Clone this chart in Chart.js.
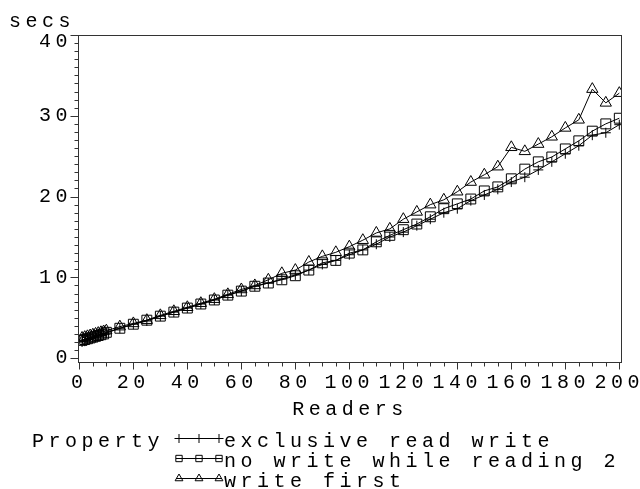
<!DOCTYPE html>
<html>
<head>
<meta charset="utf-8">
<script src="https://cdn.jsdelivr.net/npm/chart.js@4/dist/chart.umd.min.js"></script>
<style>
  html, body { margin: 0; padding: 0; background: #fff; }
  #wrap { width: 640px; height: 489px; }
</style>
</head>
<body>
<div id="wrap"><canvas id="myChart" width="640" height="489"></canvas></div>
<script>
// readers on the x axis
const readers = [1, 2, 3, 4, 5, 6, 7, 8, 9, 10,
    15, 20, 25, 30, 35, 40, 45, 50, 55, 60, 65, 70, 75, 80, 85, 90, 95, 100,
    105, 110, 115, 120, 125, 130, 135, 140, 145, 150, 155, 160, 165, 170, 175,
    180, 185, 190, 195, 200];

// seconds per property
const exclusiveReadWrite = [2.0, 2.1, 2.3, 2.4, 2.5, 2.6, 2.8, 2.9, 3.0, 3.1,
    3.7, 4.2, 4.6, 5.2, 5.7, 6.2, 6.7, 7.2, 7.8, 8.3, 8.9, 9.3, 9.8, 10.3, 10.9, 11.6, 12.1, 12.8,
    13.4, 14.1, 15.0, 15.6, 16.4, 17.2, 18.0, 18.5, 19.5, 20.2, 20.9, 21.8, 22.4, 23.3, 24.3,
    25.3, 26.3, 27.6, 27.9, 28.9];
const noWriteWhileReading2 = [2.2, 2.3, 2.4, 2.5, 2.6, 2.7, 2.8, 2.9, 3.0, 3.2,
    3.7, 4.2, 4.7, 5.2, 5.7, 6.2, 6.7, 7.2, 7.8, 8.3, 8.9, 9.3, 9.7, 10.2, 10.9, 11.8, 12.1, 13.0,
    13.4, 14.4, 15.2, 15.9, 16.6, 17.5, 18.5, 19.1, 19.7, 20.7, 21.2, 22.2, 23.4, 24.3, 24.9,
    25.9, 26.9, 28.1, 29.0, 29.7];
const writeFirst = [2.5, 2.6, 2.7, 2.8, 2.9, 3.0, 3.1, 3.2, 3.3, 3.4,
    3.9, 4.3, 4.7, 5.3, 5.8, 6.3, 6.8, 7.3, 7.9, 8.5, 9.0, 9.7, 10.5, 10.9, 11.9, 12.6, 13.1, 13.8,
    14.6, 15.5, 16.0, 17.2, 18.1, 19.0, 19.6, 20.6, 21.8, 22.7, 23.7, 26.1, 25.6, 26.5, 27.4,
    28.5, 29.5, 33.3, 31.6, 32.8];

const seriesNames = ['exclusive read write', 'no write while reading 2', 'write first'];
const xTickValues = [0, 20, 40, 60, 80, 100, 120, 140, 160, 180, 200];
const yTickValues = [0, 10, 20, 30, 40];

const FONT_FAMILY = '"Liberation Mono", "DejaVu Sans Mono", monospace';
const FONT_SIZE = 20;
const SPACING = '4.5px';

function toPoints(values) {
    return readers.map((r, i) => ({ x: r, y: values[i] }));
}

// wide letter spacing like the original output
const spacingPlugin = {
    id: 'spacing',
    beforeLayout(chart) { chart.ctx.letterSpacing = SPACING; },
    beforeDraw(chart) { chart.ctx.letterSpacing = SPACING; }
};

// frame, tick marks, "secs" label and the legend block
const decorPlugin = {
    id: 'decor',
    afterDraw(chart) {
        const ctx = chart.ctx;
        const a = chart.chartArea;
        const xs = chart.scales.x, ys = chart.scales.y;
        const L = Math.round(a.left) + 0.5, R = Math.round(a.right) - 0.5;
        const T = Math.round(a.top) + 0.5, B = Math.round(a.bottom) - 0.5;
        ctx.save();
        ctx.strokeStyle = '#333';
        ctx.lineWidth = 1;
        ctx.strokeRect(L, T, R - L, B - T);

        ctx.beginPath();
        for (let v = 0; v <= 200; v += 5) {
            const px = Math.round(xs.getPixelForValue(v)) + 0.5;
            const len = v % 20 === 0 ? 7 : 4;
            ctx.moveTo(px, B);
            ctx.lineTo(px, B + len);
        }
        for (let v = 0; v <= 40; v += 1) {
            const py = Math.round(ys.getPixelForValue(v)) + 0.5;
            const len = v % 10 === 0 ? 8 : 4;
            ctx.moveTo(L, py);
            ctx.lineTo(L - len, py);
        }
        ctx.stroke();

        ctx.fillStyle = '#000';
        ctx.font = FONT_SIZE + 'px ' + FONT_FAMILY;
        ctx.letterSpacing = SPACING;
        ctx.textAlign = 'left';
        ctx.textBaseline = 'alphabetic';
        ctx.fillText('secs', 9, 27);

        // legend
        ctx.fillText('Property', 32, 447);
        chart.data.datasets.forEach((ds, i) => {
            const base = 447 + i * 20;
            const ly = base - 9;
            ctx.strokeStyle = '#000';
            ctx.beginPath();
            ctx.moveTo(176, ly + 0.5);
            ctx.lineTo(222, ly + 0.5);
            ctx.stroke();
            ctx.fillStyle = 'rgba(0,0,0,0)';
            [179, 199, 219].forEach(mx => {
                Chart.helpers.drawPoint(ctx, {
                    pointStyle: ds.pointStyle,
                    radius: 4.5,
                    borderWidth: 1,
                    rotation: 0
                }, mx, ly + 0.5);
            });
            ctx.fillStyle = '#000';
            ctx.fillText(ds.label, 224, base);
        });
        ctx.restore();
    }
};

const ctx = document.getElementById('myChart').getContext('2d');
const myChart = new Chart(ctx, {
    type: 'line',
    data: {
        datasets: [{
            label: seriesNames[0],
            data: toPoints(exclusiveReadWrite),
            pointStyle: 'cross',
            pointRadius: 5,
        }, {
            label: seriesNames[1],
            data: toPoints(noWriteWhileReading2),
            pointStyle: 'rect',
            pointRadius: 7,
        }, {
            label: seriesNames[2],
            data: toPoints(writeFirst),
            pointStyle: 'triangle',
            pointRadius: 6.5,
        }].map(ds => Object.assign(ds, {
            borderColor: '#000',
            backgroundColor: 'rgba(0,0,0,0)',
            borderWidth: 1,
            pointBorderColor: '#000',
            pointBackgroundColor: 'rgba(0,0,0,0)',
            pointBorderWidth: 1,
            tension: 0,
            fill: false
        }))
    },
    options: {
        responsive: false,
        animation: false,
        events: [],
        layout: { padding: { top: 35, right: 18, bottom: 67, left: 0 } },
        plugins: {
            legend: { display: false },
            tooltip: { enabled: false }
        },
        scales: {
            x: {
                type: 'linear',
                min: -0.5,
                max: 201,
                grid: { display: false, drawTicks: false },
                border: { display: false },
                ticks: {
                    autoSkip: false,
                    maxRotation: 0,
                    padding: 8,
                    color: '#000',
                    font: { family: FONT_FAMILY, size: FONT_SIZE }
                },
                title: {
                    display: true,
                    text: 'Readers',
                    color: '#000',
                    padding: 0,
                    font: { family: FONT_FAMILY, size: FONT_SIZE }
                },
                afterBuildTicks(scale) {
                    scale.ticks = xTickValues.map(v => ({ value: v }));
                },
                afterFit(scale) {
                    scale.height = 59;
                    scale.paddingLeft = 0;
                    scale.paddingRight = 0;
                }
            },
            y: {
                type: 'linear',
                min: -0.6,
                max: 40,
                grid: { display: false, drawTicks: false },
                border: { display: false },
                ticks: {
                    padding: 6,
                    color: '#000',
                    font: { family: FONT_FAMILY, size: FONT_SIZE, lineHeight: 0.7 },
                    // the top label sits just under the frame corner
                    callback: v => v === 40 ? ['', String(v)] : String(v)
                },
                afterBuildTicks(scale) {
                    scale.ticks = yTickValues.map(v => ({ value: v }));
                },
                afterFit(scale) {
                    scale.width = 78;
                    scale.paddingTop = 0;
                    scale.paddingBottom = 0;
                }
            }
        }
    },
    plugins: [spacingPlugin, decorPlugin]
});
</script>
</body>
</html>
